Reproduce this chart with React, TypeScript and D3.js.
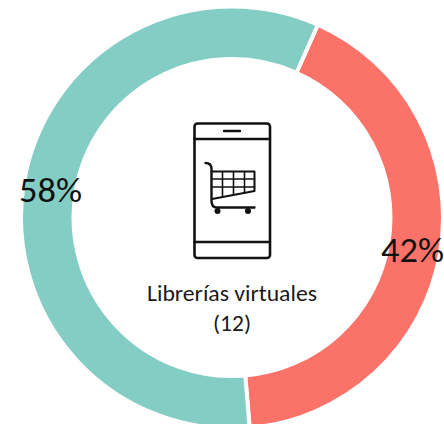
import React from "react";
import * as d3 from "d3";

const categories = ["Rojo", "Verde"];
const values = [42, 58];
const colors = ["#fa7268", "#84cdc4"];
const percentLabels = ["42%", "58%"];
const centerLines = ["Librerías virtuales", "(12)"];

const W = 444, H = 424, cx = 232, cy = 217.5, R = 211, r = 158.5;
const startAngle = (24 * Math.PI) / 180;

export default function App() {
  const pie = d3.pie<number>().sort(null).startAngle(startAngle).endAngle(startAngle + 2 * Math.PI);
  const arc = d3.arc<d3.PieArcDatum<number>>().innerRadius(r).outerRadius(R);
  const arcs = pie(values);
  const font = "Carlito, Calibri, Lato, sans-serif";
  const labelPos = [
    [412.5, 262],
    [50.5, 202],
  ];
  return (
    <svg width={W} height={H} style={{ position: "fixed", left: 0, top: 0, background: "#fff" }}>
      <g transform={`translate(${cx},${cy})`}>
        {arcs.map((a, i) => (
          <path key={categories[i]} d={arc(a) as string} fill={colors[i]} stroke="#fff" strokeWidth={4} />
        ))}
      </g>
      {percentLabels.map((t, i) => (
        <text key={t} x={labelPos[i][0]} y={labelPos[i][1]} textAnchor="middle" fontFamily={font} fontSize={35} fill="#111" textLength={63} lengthAdjust="spacingAndGlyphs">
          {t}
        </text>
      ))}
      <g fill="none" stroke="#111" strokeLinecap="round" strokeLinejoin="round">
        <rect x={194.5} y={123.5} width={75.5} height={134.5} rx={3} strokeWidth={2.6} />
        <path d="M194.5 139H270M194.5 242H270" strokeWidth={2.4} />
        <path d="M224 131H240" strokeWidth={2.4} />
        <path d="M205.5 163C209 163 211.5 165 211.5 169V201C211.5 205 213.5 207.5 217 207.5H254.5" strokeWidth={2.4} />
        <path d="M211.5 171.5H254.5V191L212 199" strokeWidth={2} />
        <path d="M211.5 179H254.5M211.5 187H254.5M222.5 171.5V197M233.5 171.5V195M244.5 171.5V193" strokeWidth={1.6} />
      </g>
      <circle cx={217.5} cy={211} r={3} fill="#111" />
      <circle cx={248} cy={211} r={3} fill="#111" />
      {centerLines.map((t, i) => (
        <text key={t} x={232} y={301 + i * 30} textAnchor="middle" fontFamily={font} fontSize={23} fill="#1a1a1a" textLength={i === 0 ? 170 : 38} lengthAdjust="spacingAndGlyphs">
          {t}
        </text>
      ))}
    </svg>
  );
}
